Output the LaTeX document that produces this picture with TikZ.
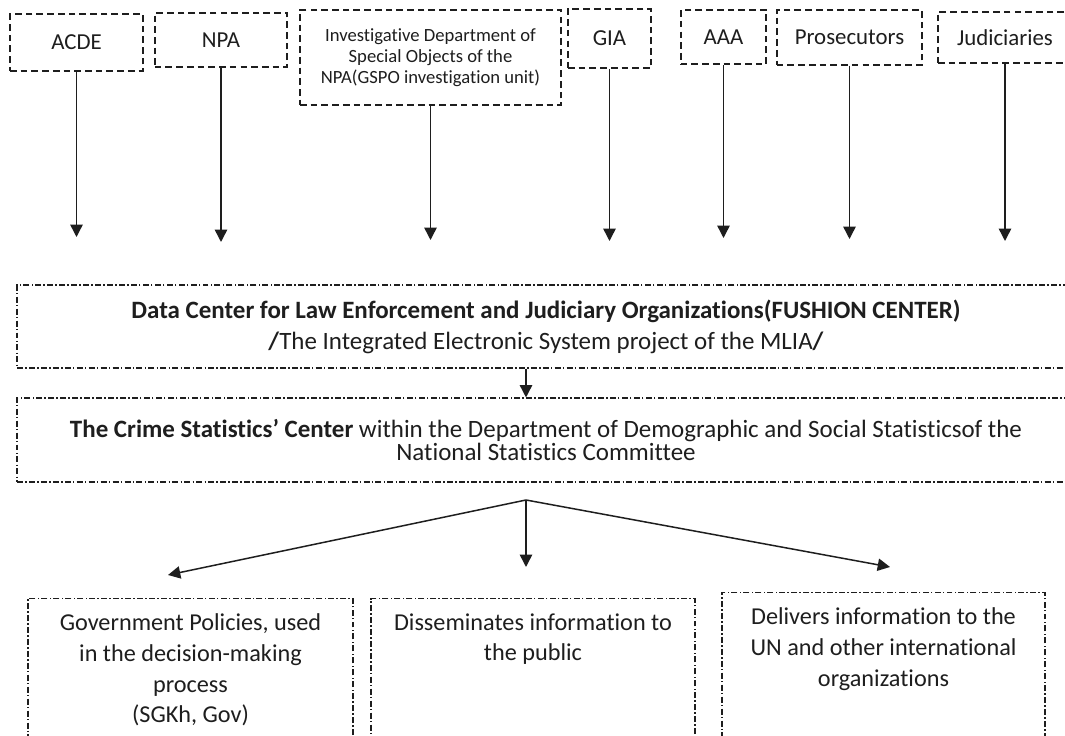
\documentclass[tikz,border=0pt]{standalone}
\usepackage{fontspec}
\setmainfont{Carlito}[Ligatures={TeX,NoCommon}]
\usepackage{tikz}
\usetikzlibrary{arrows.meta}
\definecolor{ink}{HTML}{1E1E1E}

\begin{document}
\begin{tikzpicture}[font=\fontsize{13}{15.6}\selectfont, text=ink,
  srcbox/.style={draw=ink, line width=.9pt, dash pattern=on 3.8pt off 2.3pt, inner sep=0pt},
  dashdot/.style={draw=ink, line width=.6pt, dash pattern=on 3.4pt off 1.3pt on .8pt off 1.3pt},
  midbox/.style={dashdot, minimum width=21.16cm, align=center, font=\fontsize{14.2}{16}\selectfont},
  outbox/.style={dashdot, minimum height=3.4cm, anchor=north},
  outtext/.style={anchor=north, inner sep=0pt, yshift=-.3cm, align=center, font=\fontsize{13.8}{17.6}\selectfont},
  arr/.style={ink, line width=.85pt, -{Triangle[length=7pt,width=7pt]}}]
  \useasboundingbox (0,0) rectangle (21.3,14.72);
  \clip (0,0) rectangle (21.3,14.72);
  \fill[white] (0,0) rectangle (21.3,14.72);

  % data sources
  \node[srcbox, minimum width=2.66cm, minimum height=1.13cm] (acde) at (1.53,13.87) {ACDE};
  \node[srcbox, minimum width=2.65cm, minimum height=1.08cm] (npa) at (4.42,13.92) {NPA};
  \node[srcbox, minimum width=5.22cm, minimum height=1.91cm, align=center,
        font=\fontsize{10.6}{11.8}\selectfont] (gspo) at (8.61,13.57)
        {Investigative Department of\\Special Objects of the\\NPA(GSPO investigation unit)};
  \node[srcbox, minimum width=1.66cm, minimum height=1.19cm] (gia) at (12.19,13.95) {GIA};
  \node[srcbox, minimum width=1.71cm, minimum height=1.08cm] (aaa) at (14.47,13.98) {AAA};
  \node[srcbox, minimum width=2.91cm, minimum height=1.1cm] (pros) at (16.99,13.97) {Prosecutors};
  \node[srcbox, minimum width=2.68cm, minimum height=1.02cm] (jud) at (20.1,13.97) {Judiciaries};
  \foreach \n/\y in {acde/9.98,npa/9.88,gspo/9.92,gia/9.9,aaa/9.96,pros/9.94,jud/9.9}{
    \coordinate (\n-end) at (\n.south |- 0,\y);
    \draw[arr] (\n.south) -- (\n-end);
  }

  % fusion center and statistics center
  \node[midbox, minimum height=1.66cm] (fusion) at (10.92,8.19)
    {\textbf{Data Center for Law Enforcement and Judiciary Organizations(FUSHION CENTER)}\\[1.6pt]
     \textbf{/}The Integrated Electronic System project of the MLIA\textbf{/}};
  \node[midbox, minimum height=1.68cm] (crime) at (10.92,5.92)
    {\textbf{The Crime Statistics' Center} within the Department of Demographic and Social Statisticsof the\\[-2.4pt]
     National Statistics Committee};
  \coordinate (fork) at (10.52,4.72);
  \draw[arr] (fusion.south -| fork) -- (crime.north -| fork);

  % users of the statistics
  \node[outbox, minimum width=6.5cm] (policy) at (3.81,2.76) {};
  \node[outbox, minimum width=6.48cm] (public) at (10.66,2.76) {};
  \node[outbox, minimum width=6.46cm] (intl) at (17.67,2.88) {};
  \node[outtext] (policy-txt) at (policy.north) {Government Policies, used\\in the decision-making\\process\\(SGKh, Gov)};
  \node[outtext] (public-txt) at (public.north) {Disseminates information to\\the public};
  \node[outtext] (intl-txt) at (intl.north) {Delivers information to the\\UN and other international\\organizations};
  \coordinate (policy-end) at (3.36,3.22);
  \coordinate (public-end) at (10.52,3.38);
  \coordinate (intl-end) at (17.8,3.38);
  \foreach \n in {policy,public,intl}{\draw[arr] (fork) -- (\n-end);}
\end{tikzpicture}
\end{document}
